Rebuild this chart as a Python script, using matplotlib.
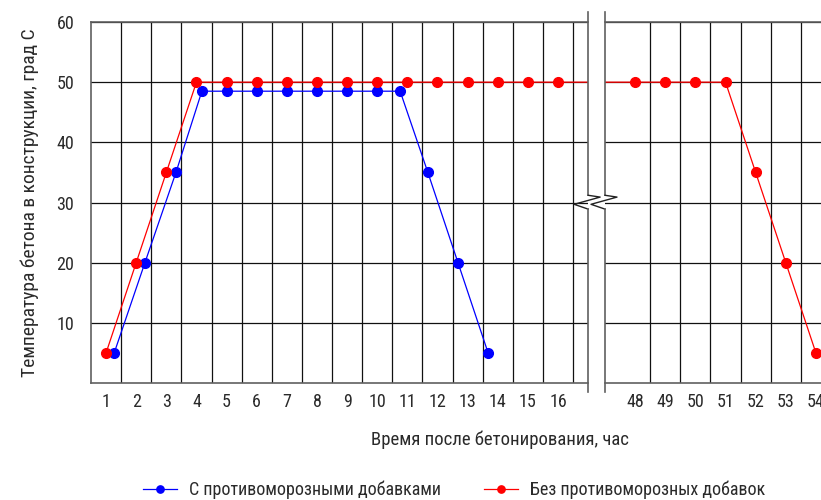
import numpy as np
import matplotlib
matplotlib.use('Agg')
import matplotlib.pyplot as plt
from matplotlib.ticker import FixedLocator
from matplotlib import font_manager

# --- data ---
hours_left = list(range(1, 17))
hours_right = list(range(48, 55))
temp_ticks = [10, 20, 30, 40, 50, 60]

# concrete without antifreeze admixtures (red)
no_add_x = [1, 2, 3, 4, 5, 6, 7, 8, 9, 10, 11, 12, 13, 14, 15, 16,
            48, 49, 50, 51, 52, 53, 54]
no_add_y = [5, 20, 35, 50, 50, 50, 50, 50, 50, 50, 50, 50, 50, 50, 50, 50,
            50, 50, 50, 50, 35, 20, 5]

# concrete with antifreeze admixtures (blue)
add_x = [1.27, 2.29, 3.32, 4.18, 5, 6, 7, 8, 9, 10, 10.76, 11.68, 12.68, 13.68]
add_y = [5, 20, 35, 48.5, 48.5, 48.5, 48.5, 48.5, 48.5, 48.5, 48.5, 35, 20, 5]

label_add = 'С противоморозными добавками'
label_no_add = 'Без противоморозных добавок'
xlabel = 'Время после бетонирования, час'
ylabel = 'Температура бетона в конструкции, град С'

# narrow CAD-like lettering: use whatever condensed face is installed
names = {f.name for f in font_manager.fontManager.ttflist}
for fam in ['Liberation Sans Narrow', 'Roboto Condensed', 'Open Sans Condensed']:
    if fam in names:
        plt.rcParams['font.family'] = [fam, 'DejaVu Sans']
        break
else:
    plt.rcParams['font.family'] = ['DejaVu Sans']
    plt.rcParams['font.stretch'] = 'condensed'
plt.rcParams['font.size'] = 13
plt.rcParams['text.color'] = '#2a2a2a'
plt.rcParams['xtick.color'] = '#2a2a2a'
plt.rcParams['ytick.color'] = '#2a2a2a'

W, H = 821, 500
fig = plt.figure(figsize=(W / 100, H / 100), dpi=100)

px = 30.13          # pixels per hour
top, bottom = 22, 383
ax_h = (bottom - top) / H
ax1 = fig.add_axes([91 / W, 1 - bottom / H, 16.5 * px / W, ax_h])
ax2 = fig.add_axes([605 / W, 1 - bottom / H, 7.5 * px / W, ax_h])

spine_col = '#606060'
grid_col = '#111111'

for ax, ticks, xlim in [(ax1, hours_left, (0.5, 17.0)), (ax2, hours_right, (47.0, 54.5))]:
    ax.plot(add_x, add_y, color='#0000ff', lw=0.9, marker='o', ms=7,
            label=label_add, zorder=3)
    ax.plot(no_add_x, no_add_y, color='#ff0000', lw=0.9, marker='o', ms=7,
            label=label_no_add, zorder=3)
    ax.set_xlim(*xlim)
    ax.set_ylim(0, 60)
    ax.xaxis.set_major_locator(FixedLocator(ticks))
    ax.xaxis.set_minor_locator(FixedLocator([t + 0.5 for t in ticks]))
    ax.yaxis.set_major_locator(FixedLocator(temp_ticks))
    ax.tick_params(axis='both', which='both', length=0, labelsize=13)
    ax.tick_params(axis='x', pad=7)
    ax.tick_params(axis='y', pad=12)
    ax.grid(True, which='minor', axis='x', color=grid_col, lw=0.9)
    ax.grid(True, which='major', axis='y', color=grid_col, lw=0.9)
    ax.set_axisbelow(True)
    for s in ax.spines.values():
        s.set_color(spine_col)
        s.set_linewidth(1.2)

ax2.set_yticklabels([])
ax1.spines['right'].set_visible(False)
ax2.spines['left'].set_visible(False)
ax2.spines['right'].set_visible(False)

# break marks: edge lines sticking out past the frame, with a zigzag near y=30
def break_edge(ax, xe):
    dx = 1 / px
    ax.plot([xe, xe], [61.7, 31.2], color=spine_col, lw=1.2, clip_on=False, zorder=4)
    ax.plot([xe, xe + 12 * dx, xe - 14 * dx, xe], [31.2, 30.9, 29.7, 28.9],
            color='#222222', lw=1.0, clip_on=False, zorder=4)
    ax.plot([xe, xe], [28.9, -1.5], color=spine_col, lw=1.2, clip_on=False, zorder=4)

break_edge(ax1, 17.0)
break_edge(ax2, 47.0)

fig.text(500 / W, 1 - 440 / H, xlabel, ha='center', va='center', fontsize=13.5)
fig.text(30 / W, 1 - 203 / H, ylabel, ha='center', va='center',
         rotation=90, fontsize=14)

handles, labels = ax1.get_legend_handles_labels()
fig.legend(handles, labels, loc='center', bbox_to_anchor=(454 / W, 1 - 490 / H),
           ncol=2, frameon=False, handlelength=1.9, handletextpad=0.65,
           columnspacing=2.4, fontsize=13, markerscale=0.75)

fig.savefig('out.png', dpi=100)
